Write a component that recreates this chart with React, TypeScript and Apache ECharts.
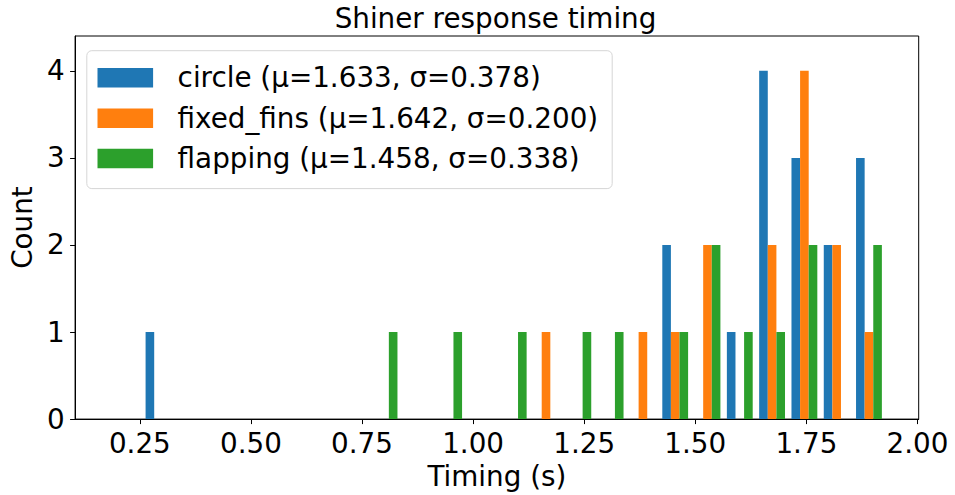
import React, { useEffect, useRef } from "react";
import * as echarts from "echarts";

// Histogram bin edges (seconds)
const binEdges = [
  0.1829, 0.2556, 0.3283, 0.4009, 0.4736, 0.5463, 0.619, 0.6917, 0.7643,
  0.837, 0.9097, 0.9824, 1.0551, 1.1277, 1.2004, 1.2731, 1.3458, 1.4185,
  1.4911, 1.5638, 1.6365, 1.7092, 1.7819, 1.8545, 1.9272,
];

const seriesNames = [
  "circle (μ=1.633, σ=0.378)",
  "fixed_fins (μ=1.642, σ=0.200)",
  "flapping (μ=1.458, σ=0.338)",
];

const circleCounts = [0, 1, 0, 0, 0, 0, 0, 0, 0, 0, 0, 0, 0, 0, 0, 0, 0, 2, 0, 1, 4, 3, 2, 3];
const fixedFinsCounts = [0, 0, 0, 0, 0, 0, 0, 0, 0, 0, 0, 0, 0, 1, 0, 0, 1, 1, 2, 0, 2, 4, 2, 1];
const flappingCounts = [0, 0, 0, 0, 0, 0, 0, 0, 1, 0, 1, 0, 1, 0, 1, 1, 0, 1, 2, 1, 1, 2, 0, 2];

const xTicks = [0.25, 0.5, 0.75, 1.0, 1.25, 1.5, 1.75, 2.0];
const yTicks = [0, 1, 2, 3, 4];

const colors = ["#1f77b4", "#ff7f0e", "#2ca02c"];
const FONT = "DejaVu Sans";
const FS = 27.8;

export default function App() {
  const ref = useRef<HTMLDivElement>(null);

  useEffect(() => {
    if (!ref.current) return;
    const chart = echarts.init(ref.current, undefined, { renderer: "svg" });
    const allCounts = [circleCounts, fixedFinsCounts, flappingCounts];
    const nSeries = allCounts.length;

    const series = allCounts.map((counts, k) => ({
      type: "custom",
      name: seriesNames[k],
      itemStyle: { color: colors[k] },
      encode: { x: [0, 1], y: 2 },
      data: counts.map((c, i) => [binEdges[i], binEdges[i + 1], c]),
      renderItem: (params: any, api: any) => {
        const s = api.value(0);
        const e = api.value(1);
        const c = api.value(2);
        if (!c) return { type: "group", children: [] };
        const w = e - s;
        const x0 = s + w * (0.1 + (0.8 * k) / nSeries);
        const x1 = x0 + (w * 0.8) / nSeries;
        const p0 = api.coord([x0, c]);
        const p1 = api.coord([x1, 0]);
        return {
          type: "rect",
          shape: { x: p0[0], y: p0[1], width: p1[0] - p0[0], height: p1[1] - p0[1] },
          style: { fill: colors[k] },
        };
      },
    }));

    chart.setOption({
      animation: false,
      backgroundColor: "#ffffff",
      textStyle: { fontFamily: FONT },
      graphic: [
        {
          type: "text",
          x: 495.5,
          y: 18.1,
          style: {
            text: "Shiner response timing",
            fontFamily: FONT,
            fontSize: FS,
            fill: "#000",
            align: "center",
            verticalAlign: "middle",
          },
        },
      ],
      grid: {
        left: 72.3,
        right: 36.3,
        top: 36,
        bottom: 75.7,
        show: true,
        borderColor: "#000",
        borderWidth: 1,
        backgroundColor: "transparent",
      },
      legend: {
        orient: "vertical",
        left: 86.8,
        top: 50.7,
        data: seriesNames,
        icon: "rect",
        itemWidth: 55.6,
        itemHeight: 19.5,
        itemGap: 12.4,
        padding: [13.1, 14, 16, 10.7],
        backgroundColor: "rgba(255,255,255,0.8)",
        borderColor: "#d6d6d6",
        borderWidth: 1,
        borderRadius: 5,
        textStyle: {
          fontFamily: FONT,
          fontSize: FS,
          color: "#000",
          lineHeight: 20,
          padding: [0, 0, 0, 19.5],
        },
      },
      xAxis: {
        type: "value",
        min: 0.1042,
        max: 2.0028,
        name: "Timing (s)",
        nameLocation: "middle",
        nameGap: 42.5,
        nameTextStyle: { fontFamily: FONT, fontSize: FS, color: "#000" },
        splitLine: { show: false },
        axisLine: { show: true, lineStyle: { color: "#000", width: 1 } },
        axisTick: {
          show: true,
          length: 5,
          lineStyle: { color: "#000", width: 1 },
          customValues: xTicks,
        },
        axisLabel: {
          fontFamily: FONT,
          fontSize: FS,
          color: "#000",
          margin: 10,
          customValues: xTicks,
          formatter: (v: number) => v.toFixed(2),
        },
      },
      yAxis: {
        type: "value",
        min: 0,
        max: 4.4,
        name: "Count",
        nameLocation: "middle",
        nameGap: 35.3,
        nameTextStyle: { fontFamily: FONT, fontSize: FS, color: "#000" },
        splitLine: { show: false },
        axisLine: { show: true, lineStyle: { color: "#000", width: 1 } },
        axisTick: {
          show: true,
          length: 5,
          lineStyle: { color: "#000", width: 1 },
          customValues: yTicks,
        },
        axisLabel: {
          fontFamily: FONT,
          fontSize: FS,
          color: "#000",
          margin: 10.5,
          customValues: yTicks,
          formatter: (v: number) => String(v),
        },
      },
      series,
    });

    return () => chart.dispose();
  }, []);

  return (
    <div
      ref={ref}
      style={{ position: "fixed", left: 0, top: 0, width: 955, height: 495, background: "#fff" }}
    />
  );
}
